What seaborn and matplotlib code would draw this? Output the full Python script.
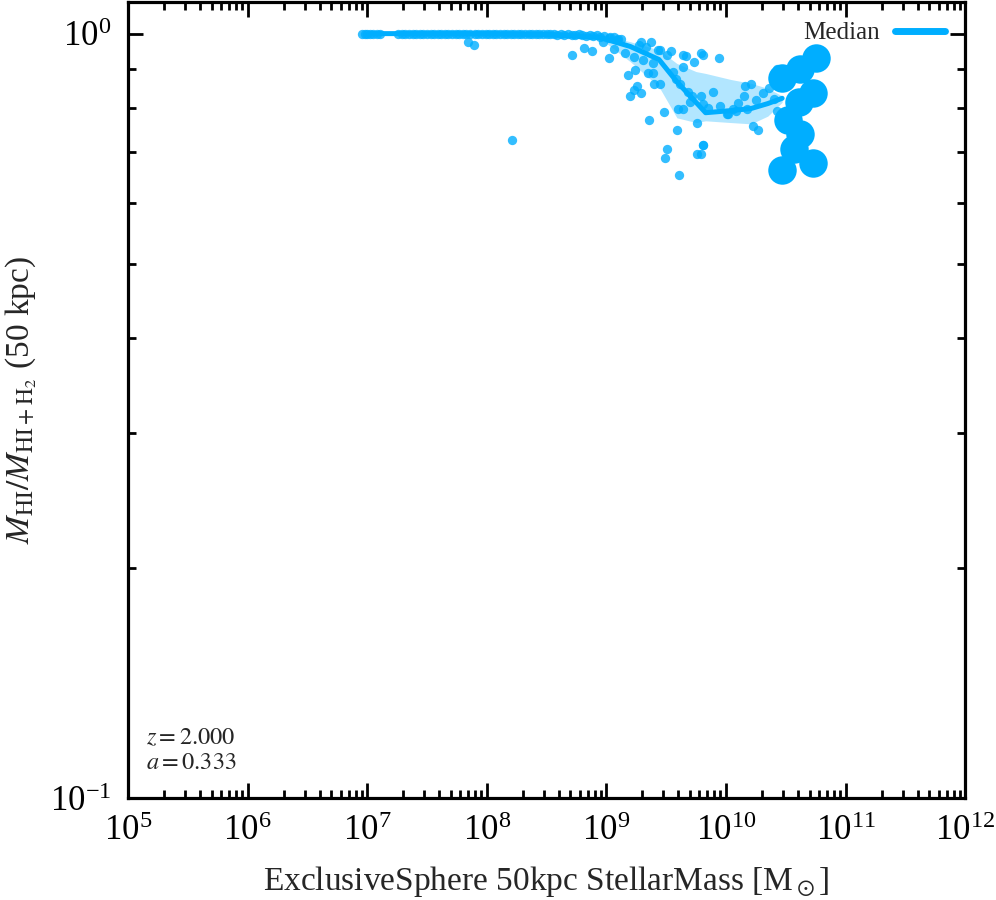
import numpy as np
import pandas as pd
import matplotlib
matplotlib.use("Agg")
import matplotlib.pyplot as plt
import seaborn as sns
from matplotlib.ticker import LogLocator, NullFormatter

# values (log10 stellar mass, HI fraction)
row_logm = [6.96, 6.98, 7.00, 7.02, 7.05, 7.08, 7.11, 7.26, 7.29, 7.32, 7.35,
            7.38, 7.41, 7.44, 7.47, 7.50, 7.53, 7.56, 7.59, 7.62, 7.65, 7.68,
            7.71, 7.74, 7.77, 7.80, 7.83, 7.86, 7.90, 7.93, 7.96, 7.99, 8.02,
            8.05, 8.08, 8.11, 8.14, 8.17, 8.20, 8.23, 8.26, 8.29, 8.32, 8.35,
            8.38, 8.41, 8.44, 8.47, 8.50, 8.53, 8.56, 8.59, 8.62, 8.65, 8.68,
            8.71, 8.74, 8.77, 8.80, 8.83, 8.86, 8.89, 8.92, 8.95, 8.98, 9.02,
            9.06, 9.10]
row_frac = [1.000, 1.000, 1.000, 1.000, 1.000, 1.000, 1.000, 1.000, 1.000,
            1.000, 0.999, 1.000, 1.000, 0.999, 1.000, 1.000, 1.000, 0.999,
            1.000, 1.000, 1.000, 0.999, 1.000, 1.000, 0.999, 1.000, 1.000,
            0.999, 1.000, 1.000, 0.999, 1.000, 1.000, 0.999, 1.000, 1.000,
            0.999, 1.000, 0.998, 1.000, 0.999, 1.000, 0.998, 1.000, 0.999,
            0.998, 1.000, 0.999, 0.998, 0.999, 1.000, 0.997, 0.999, 0.996,
            0.998, 0.997, 0.995, 0.998, 0.996, 0.994, 0.997, 0.993, 0.995,
            0.990, 0.992, 0.988, 0.990, 0.985]

pts_logm = [7.84, 7.89, 8.21, 8.71, 8.81, 8.88, 9.02, 9.18, 9.20, 9.23, 9.26,
            9.29, 9.24, 9.35, 9.39, 9.40, 9.45, 9.36, 9.48, 9.59, 9.51, 9.49,
            9.61, 9.76, 9.81, 9.64, 9.67, 9.73, 9.79, 9.81, 9.94, 9.64, 9.89,
            9.76, 9.60, 9.64, 9.79, 9.81, 10.01, 10.06, 9.29, 9.37, 9.45, 9.54,
            8.97, 9.12, 9.06, 9.16, 9.23, 9.31, 9.39, 9.43, 9.51, 9.56, 9.58,
            9.62, 9.68, 9.72, 10.16, 10.21, 10.15, 10.31, 10.36, 10.43, 10.43,
            10.23, 10.27, 10.02, 10.08, 10.18, 9.81, 9.79, 9.03, 9.09, 9.27,
            9.33, 9.70, 9.85, 9.95, 10.10, 10.25, 10.40]
pts_frac = [0.976, 0.965, 0.725, 0.939, 0.959, 0.950, 0.930, 0.884, 0.828,
            0.845, 0.855, 0.835, 0.895, 0.887, 0.887, 0.860, 0.858, 0.772,
            0.789, 0.747, 0.706, 0.687, 0.653, 0.695, 0.714, 0.939, 0.936,
            0.917, 0.942, 0.939, 0.928, 0.903, 0.838, 0.763, 0.796, 0.798,
            0.828, 0.808, 0.784, 0.798, 0.976, 0.976, 0.953, 0.950, 0.976,
            0.985, 0.956, 0.942, 0.933, 0.925, 0.914, 0.953, 0.939, 0.892,
            0.871, 0.860, 0.840, 0.828, 0.853, 0.860, 0.828, 0.835, 0.848,
            0.900, 0.791, 0.756, 0.747, 0.786, 0.791, 0.796, 0.716, 0.695,
            0.990, 0.982, 0.965, 0.960, 0.815, 0.800, 0.805, 0.812, 0.818,
            0.822]

big_logm = [10.75, 10.62, 10.47, 10.73, 10.61, 10.52, 10.62, 10.57, 10.73, 10.47]
big_frac = [0.928, 0.900, 0.874, 0.835, 0.815, 0.772, 0.738, 0.706, 0.677, 0.664]

med_logm = [7.03, 7.53, 8.03, 8.53, 8.95, 9.20, 9.44, 9.59, 9.75, 9.83, 10.04, 10.21, 10.35, 10.47]
med_frac = [1.000, 1.000, 1.000, 0.997, 0.988, 0.962, 0.925, 0.865, 0.813, 0.788, 0.793, 0.798, 0.810, 0.823]
lo_frac = [1.000, 1.000, 0.999, 0.995, 0.985, 0.919, 0.852, 0.776, 0.765, 0.769, 0.765, 0.762, 0.780, 0.813]
hi_frac = [1.000, 1.000, 1.000, 1.000, 0.997, 0.976, 0.952, 0.914, 0.892, 0.887, 0.871, 0.861, 0.848, 0.829]

blue = "#00aeff"

sns.set_style("ticks")
plt.rcParams["font.family"] = ["Liberation Serif", "DejaVu Serif"]
plt.rcParams["mathtext.fontset"] = "stix"

fig = plt.figure(figsize=(9.96, 9.0), dpi=100)
ax = fig.add_axes([0.1285, 0.1133, 0.8405, 0.8845])

scatter_df = pd.DataFrame({"mass": 10 ** np.array(row_logm + pts_logm),
                           "frac": row_frac + pts_frac})
big_df = pd.DataFrame({"mass": 10 ** np.array(big_logm), "frac": big_frac})
med_df = pd.DataFrame({"mass": 10 ** np.array(med_logm), "frac": med_frac})

ax.fill_between(med_df["mass"], lo_frac, hi_frac, color=blue, alpha=0.3,
                linewidth=0, zorder=1)
sns.scatterplot(data=scatter_df, x="mass", y="frac", ax=ax, color=blue,
                s=45, alpha=0.8, linewidth=0, zorder=2)
sns.lineplot(data=med_df, x="mass", y="frac", ax=ax, color=blue, lw=3.6,
             label="Median", zorder=3)
sns.scatterplot(data=big_df, x="mass", y="frac", ax=ax, color=blue,
                s=420, linewidth=0, zorder=4)

ax.set_xscale("log")
ax.set_yscale("log")
ax.set_xlim(1e5, 1e12)
ax.set_ylim(0.1, 1.1)

ax.xaxis.set_major_locator(LogLocator(base=10, numticks=20))
ax.xaxis.set_minor_locator(LogLocator(base=10, subs=np.arange(2, 10), numticks=20))
ax.xaxis.set_minor_formatter(NullFormatter())
ax.yaxis.set_major_locator(LogLocator(base=10, numticks=20))
ax.yaxis.set_minor_locator(LogLocator(base=10, subs=np.arange(2, 10), numticks=20))
ax.yaxis.set_minor_formatter(NullFormatter())

ax.tick_params(which="both", direction="in", top=True, right=True,
               width=2.0, labelsize=25, colors="black")
ax.tick_params(axis="x", which="both", pad=12)
ax.tick_params(axis="y", which="both", pad=12)
ax.tick_params(which="major", length=11)
ax.tick_params(which="minor", length=6)
for sp in ax.spines.values():
    sp.set_linewidth(2.3)
    sp.set_color("black")

ax.set_xlabel(r"ExclusiveSphere 50kpc StellarMass [M$_\odot$]", fontsize=24, labelpad=12)
ax.set_ylabel(r"$M_{\rm HI}/M_{\rm HI+H_2}$ (50 kpc)", fontsize=24, labelpad=8)

ax.text(0.022, 0.03, "$z = 2.000$\n$a = 0.333$", transform=ax.transAxes,
        fontsize=17.5, ha="left", va="bottom", linespacing=1.25)

leg = ax.legend(loc="upper right", frameon=False, fontsize=18, markerfirst=False,
                handlelength=2.0, handletextpad=0.6, borderaxespad=0.4)
for h in leg.get_lines():
    h.set_linewidth(5)

fig.savefig("out.png", dpi=100)
